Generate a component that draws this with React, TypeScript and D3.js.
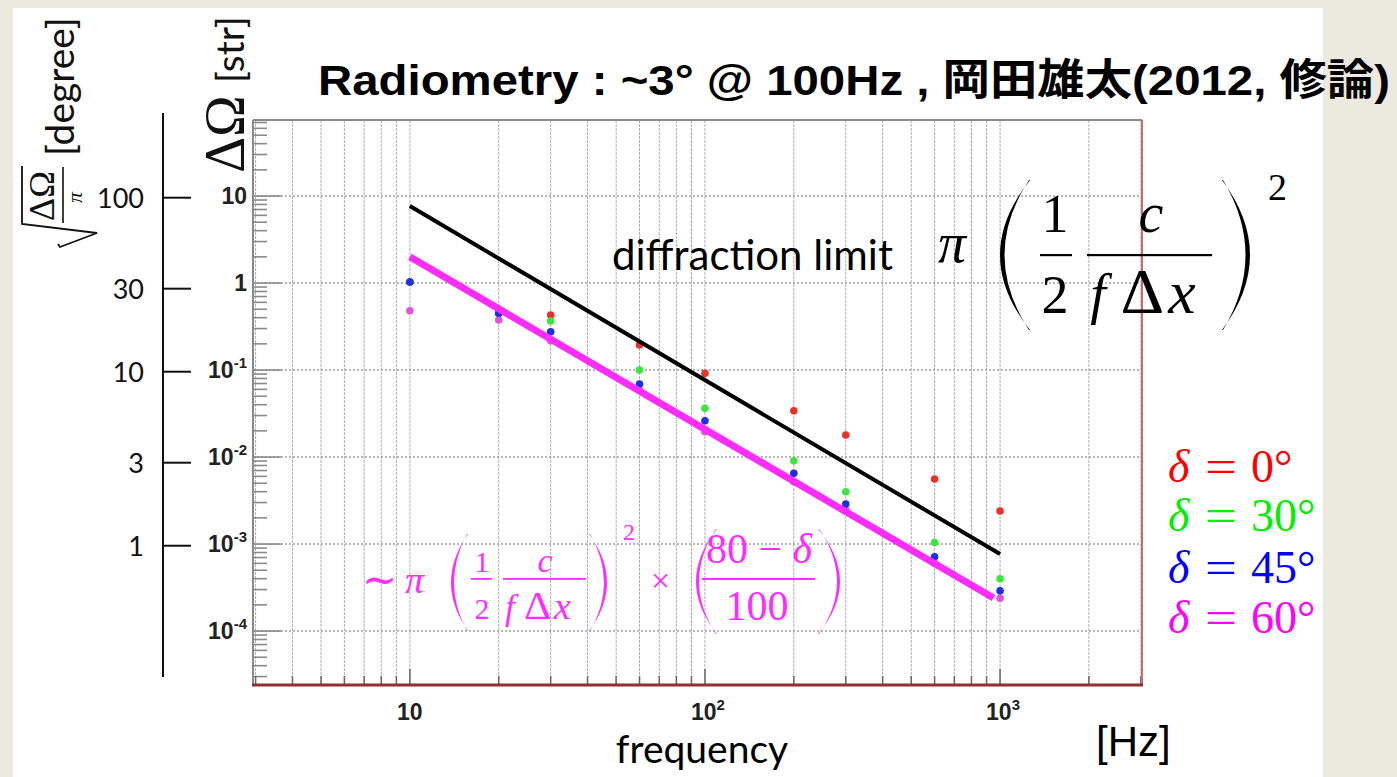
import React from "react";
import * as d3 from "d3";

// Solid angle ΔΩ [str] measured at each frequency, one array per source declination δ
const frequencies = [10, 20, 30, 60, 100, 200, 300, 600, 1000];
const omegaDelta0 = [1.03, 0.449, 0.429, 0.194, 0.0916, 0.034, 0.0179, 0.00559, 0.0024];
const omegaDelta30 = [1.03, 0.449, 0.366, 0.1, 0.0363, 0.00906, 0.00399, 0.00104, 0.000399];
const omegaDelta45 = [1.03, 0.449, 0.275, 0.069, 0.0261, 0.0065, 0.00288, 0.000715, 0.00029];
const omegaDelta60 = [0.48, 0.376, 0.217, 0.059, 0.0195, 0.0052, 0.00246, 0.000602, 0.000238];

// Diffraction limit and the empirical δ = 60° model (both ∝ f^-2)
const limitFreq = [10, 1000];
const limitOmega = [7.67, 7.67e-4];
const modelFreq = [10, 950];
const modelOmega = [2.0, 2.4e-4];

// Axis ticks
const xMajorTicks = [10, 100, 1000];
const xMajorExponents = ["", "2", "3"];
const yMajorTicks = [10, 1, 0.1, 0.01, 0.001, 0.0001];
const yMajorBases = ["10", "1", "10", "10", "10", "10"];
const yMajorExponents = ["", "", "-1", "-2", "-3", "-4"];
const degreeTicks = [100, 30, 10, 3, 1];

// Legend
const legendDeltas = ["0°", "30°", "45°", "60°"];
const legendColors = ["#ff0000", "#00f000", "#0000ff", "#ff00ff"];
const dotColors = ["#e8322a", "#3ae83a", "#1f2fe6", "#e452e4"];

const X_DOMAIN: [number, number] = [2.94, 3027];
const Y_DOMAIN: [number, number] = [74.8, 2.4e-5];

const MATH = "'Liberation Serif', 'DejaVu Serif', serif";
const SANS = "Lato, 'Open Sans', sans-serif";
const ROOT_FONT = "'Liberation Sans', Arial, sans-serif";

function parenPath(xTip: number, xBulge: number, yTop: number, yBot: number, thick: number) {
  const ym = (yTop + yBot) / 2;
  const dir = Math.sign(xTip - xBulge);
  const c1 = 2 * xBulge - xTip;
  const c2 = 2 * (xBulge + dir * thick) - xTip;
  return `M${xTip},${yTop} Q${c1},${ym} ${xTip},${yBot} L${xTip - dir * 1},${yBot} Q${c2},${ym} ${xTip - dir * 1},${yTop} Z`;
}

// f Δx written glyph by glyph so each letter keeps its natural weight
function FDeltaX({ x0, y0, size, fill }: { x0: number; y0: number; size: number; fill: string }) {
  const s = size;
  return (
    <g fill={fill} fontFamily={MATH}>
      <text x={x0 + 0.06 * s} y={y0} fontStyle="italic" fontSize={s}>f</text>
      <text x={x0 + 0.6 * s} y={y0} fontSize={s * 1.12} textLength={0.78 * s} lengthAdjust="spacingAndGlyphs">Δ</text>
      <text x={x0 + 1.45 * s} y={y0} fontStyle="italic" fontSize={s * 1.1}>x</text>
    </g>
  );
}

export default function App() {
  const left = 253, right = 1142, top = 120, bottom = 685;
  const x = d3.scaleLog().domain(X_DOMAIN).range([left, right]);
  const y = d3.scaleLog().domain(Y_DOMAIN).range([top, bottom]);

  const xMinor: number[] = [];
  for (const d of [1, 10, 100, 1000])
    for (let k = 1; k <= 9; k++) {
      const v = k * d;
      if (v > X_DOMAIN[0] && v < X_DOMAIN[1]) xMinor.push(v);
    }
  const yMinor: number[] = [];
  for (let e = -5; e <= 1; e++)
    for (let k = 1; k <= 9; k++) {
      const v = k * Math.pow(10, e);
      if (v > Y_DOMAIN[1] && v < Y_DOMAIN[0]) yMinor.push(v);
    }

  const line = d3
    .line<[number, number]>()
    .x((d) => x(d[0]))
    .y((d) => y(d[1]));

  const limitPts = limitFreq.map((f, i) => [f, limitOmega[i]] as [number, number]);
  const modelPts = modelFreq.map((f, i) => [f, modelOmega[i]] as [number, number]);

  // drawing order: δ=60 first, then 0, 30, 45 on top
  const series = [
    { values: omegaDelta60, color: dotColors[3] },
    { values: omegaDelta0, color: dotColors[0] },
    { values: omegaDelta30, color: dotColors[1] },
    { values: omegaDelta45, color: dotColors[2] },
  ];

  // opening angle in degrees -> solid angle π θ²
  const degToOmega = (deg: number) => Math.PI * Math.pow((deg * Math.PI) / 180, 2);

  const magenta = "#ff2cff";
  const legendY = [482, 531, 583, 633];

  return (
    <svg
      width={1397}
      height={777}
      style={{ position: "absolute", left: 0, top: 0 }}
      xmlns="http://www.w3.org/2000/svg"
    >
      <rect x={0} y={0} width={1397} height={777} fill="#ece9df" />
      <rect x={13} y={8} width={1310} height={769} fill="#ffffff" />

      {/* vertical grid */}
      {xMinor.map((v, i) => (
        <line key={"gx" + i} x1={x(v)} x2={x(v)} y1={top} y2={bottom} stroke="#b0b0b0" strokeWidth={1} strokeDasharray="3,1" />
      ))}
      {/* horizontal grid at decades */}
      {yMajorTicks.map((v, i) => (
        <line key={"gy" + i} x1={left} x2={right} y1={y(v)} y2={y(v)} stroke="#a0a0a0" strokeWidth={1.5} strokeDasharray="2,2" />
      ))}

      {/* y ticks */}
      {yMinor.map((v, i) => {
        const major = yMajorTicks.some((t) => Math.abs(Math.log10(t) - Math.log10(v)) < 1e-6);
        return (
          <line key={"ty" + i} x1={left} x2={left + (major ? 28 : 14)} y1={y(v)} y2={y(v)} stroke="#8a8a8a" strokeWidth={1.6} />
        );
      })}
      {/* x ticks */}
      {xMinor.map((v, i) => {
        const major = xMajorTicks.includes(v);
        return (
          <line key={"tx" + i} x1={x(v)} x2={x(v)} y1={bottom} y2={bottom - (major ? 16 : 9)} stroke="#666" strokeWidth={1.5} />
        );
      })}

      {/* frame */}
      <line x1={left} x2={right} y1={top} y2={top} stroke="#8a8a8a" strokeWidth={2} />
      <line x1={left} x2={left} y1={top} y2={bottom} stroke="#8a8a8a" strokeWidth={2} />
      <line x1={right} x2={right} y1={top} y2={bottom + 1} stroke="#cf6a6a" strokeWidth={2} />
      <line x1={left - 1} x2={right + 1} y1={bottom} y2={bottom} stroke="#8e3131" strokeWidth={3} />

      {/* y tick labels */}
      {yMajorTicks.map((v, i) => (
        <text key={"ly" + i} x={247} y={y(v) + 8} textAnchor="end" fontFamily={ROOT_FONT} fontWeight="bold" fontSize={23} fill="#222">
          {yMajorBases[i]}
          {yMajorExponents[i] && (
            <tspan fontSize={15} dy={-10}>
              {yMajorExponents[i]}
            </tspan>
          )}
        </text>
      ))}
      {/* x tick labels */}
      {xMajorTicks.map((v, i) => (
        <text key={"lx" + i} x={x(v) + (xMajorExponents[i] ? 3 : 0)} y={720} textAnchor="middle" fontFamily={ROOT_FONT} fontWeight="bold" fontSize={23} fill="#222">
          {"10"}
          {xMajorExponents[i] && (
            <tspan fontSize={15} dy={-10}>
              {xMajorExponents[i]}
            </tspan>
          )}
        </text>
      ))}

      {/* data points */}
      {series.map((s, si) =>
        s.values.map((v, i) => (
          <circle key={"p" + si + "-" + i} cx={x(frequencies[i])} cy={y(v)} r={3.8} fill={s.color} />
        ))
      )}

      {/* diffraction limit and model lines */}
      <path d={line(limitPts) || ""} fill="none" stroke="#000" strokeWidth={4} />
      <path d={line(modelPts) || ""} fill="none" stroke={magenta} strokeWidth={7} />

      {/* secondary axis in degrees */}
      <line x1={163} x2={163} y1={113} y2={677} stroke="#111" strokeWidth={2} />
      {degreeTicks.map((d, i) => {
        const yy = y(degToOmega(d));
        return (
          <g key={"dg" + i}>
            <line x1={163} x2={191} y1={yy} y2={yy} stroke="#111" strokeWidth={2} />
            <text x={144} y={yy + 10} textAnchor="end" fontFamily={SANS} fontSize={27} fill="#111">
              {String(d)}
            </text>
          </g>
        );
      })}

      {/* sqrt(ΔΩ/π) [degree] */}
      <path d="M22,166 L22,224 L97,233 L60,247 L58,244" fill="none" stroke="#111" strokeWidth={1.8} />
      <g transform="translate(54,221) rotate(-90)">
        <text x={0} y={0} fontFamily={MATH} fontSize={36} fill="#111">ΔΩ</text>
      </g>
      <line x1={63} x2={63} y1={167} y2={223} stroke="#111" strokeWidth={1.6} />
      <g transform="translate(82,203) rotate(-90)">
        <text x={0} y={0} fontFamily={MATH} fontStyle="italic" fontSize={22} fill="#111">π</text>
      </g>
      <g transform="translate(74,156) rotate(-90)">
        <text x={0} y={0} fontFamily={SANS} fontSize={39} fill="#111">[degree]</text>
      </g>

      {/* ΔΩ [str] */}
      <g transform="translate(244,173) rotate(-90)">
        <text x={0} y={0} fontFamily={MATH} fontSize={56} fill="#111">ΔΩ</text>
        <text x={90} y={0} fontFamily={SANS} fontSize={39} fill="#111">[str]</text>
      </g>

      {/* title */}
      <text x={318} y={95} fontFamily="'Liberation Sans', Arial, 'Noto Sans CJK JP', sans-serif" fontWeight="bold" fontSize={43} fill="#000" textLength={1072} lengthAdjust="spacingAndGlyphs">
        Radiometry : ~3° @ 100Hz , 岡田雄太(2012, 修論)
      </text>

      {/* diffraction limit label and formula */}
      <text x={612} y={270} fontFamily={SANS} fontSize={42} fill="#000">diffraction limit</text>
      <text x={938} y={262} fontFamily={MATH} fontStyle="italic" fontSize={56} fill="#000">π</text>
      <path d={parenPath(1030, 1000, 180, 330, 5)} fill="#000" />
      <text x={1055} y={232} textAnchor="middle" fontFamily={MATH} fontSize={54} fill="#000">1</text>
      <rect x={1040} y={254} width={32} height={2.2} fill="#000" />
      <text x={1055} y={313} textAnchor="middle" fontFamily={MATH} fontSize={54} fill="#000">2</text>
      <text x={1151} y={232} textAnchor="middle" fontFamily={MATH} fontStyle="italic" fontSize={56} fill="#000">c</text>
      <rect x={1087} y={254} width={125} height={2.2} fill="#000" />
      <FDeltaX x0={1087} y0={313} size={56} fill="#000" />
      <path d={parenPath(1222, 1250, 180, 330, 5)} fill="#000" />
      <text x={1268} y={200} fontFamily={MATH} fontSize={38} fill="#000">2</text>

      {/* model formula */}
      <g fill={magenta}>
        <text x={362} y={594} fontFamily={MATH} fontSize={42}>∼</text>
        <text x={405} y={593} fontFamily={MATH} fontStyle="italic" fontSize={38}>π</text>
        <path d={parenPath(468, 451, 534, 631, 3.5)} />
        <text x={482} y={572} textAnchor="middle" fontFamily={MATH} fontSize={30}>1</text>
        <rect x={471} y={578} width={21} height={1.8} />
        <text x={482} y={619} textAnchor="middle" fontFamily={MATH} fontSize={30}>2</text>
        <text x={545} y={572} textAnchor="middle" fontFamily={MATH} fontStyle="italic" fontSize={34}>c</text>
        <rect x={503} y={578} width={83} height={1.8} />
        <path d={parenPath(589, 607, 534, 631, 3.5)} />
        <text x={623} y={540} fontFamily={MATH} fontSize={24}>2</text>
        <text x={651} y={592} fontFamily={MATH} fontSize={34}>×</text>
        <path d={parenPath(717, 696, 529, 634, 3.5)} />
        <text x={759} y={563} textAnchor="middle" fontFamily={MATH} fontSize={42}>
          {"80 − "}
          <tspan fontStyle="italic">δ</tspan>
        </text>
        <rect x={702} y={578} width={113} height={2} />
        <text x={757} y={620} textAnchor="middle" fontFamily={MATH} fontSize={42}>100</text>
        <path d={parenPath(818, 840, 529, 634, 3.5)} />
      </g>
      <FDeltaX x0={503} y0={619} size={35} fill={magenta} />

      {/* legend */}
      {legendDeltas.map((d, i) => (
        <g key={"lg" + i} fill={legendColors[i]} fontFamily={MATH} fontSize={46}>
          <text x={1168} y={legendY[i]} fontStyle="italic">δ</text>
          <text x={1205} y={legendY[i]} textLength={32} lengthAdjust="spacingAndGlyphs">=</text>
          <text x={1251} y={legendY[i]}>{d}</text>
        </g>
      ))}

      {/* axis titles */}
      <text x={702} y={763} textAnchor="middle" fontFamily={SANS} fontSize={39} fill="#000">frequency</text>
      <text x={1096} y={756} fontFamily={ROOT_FONT} fontSize={42} fill="#000">[Hz]</text>
    </svg>
  );
}
